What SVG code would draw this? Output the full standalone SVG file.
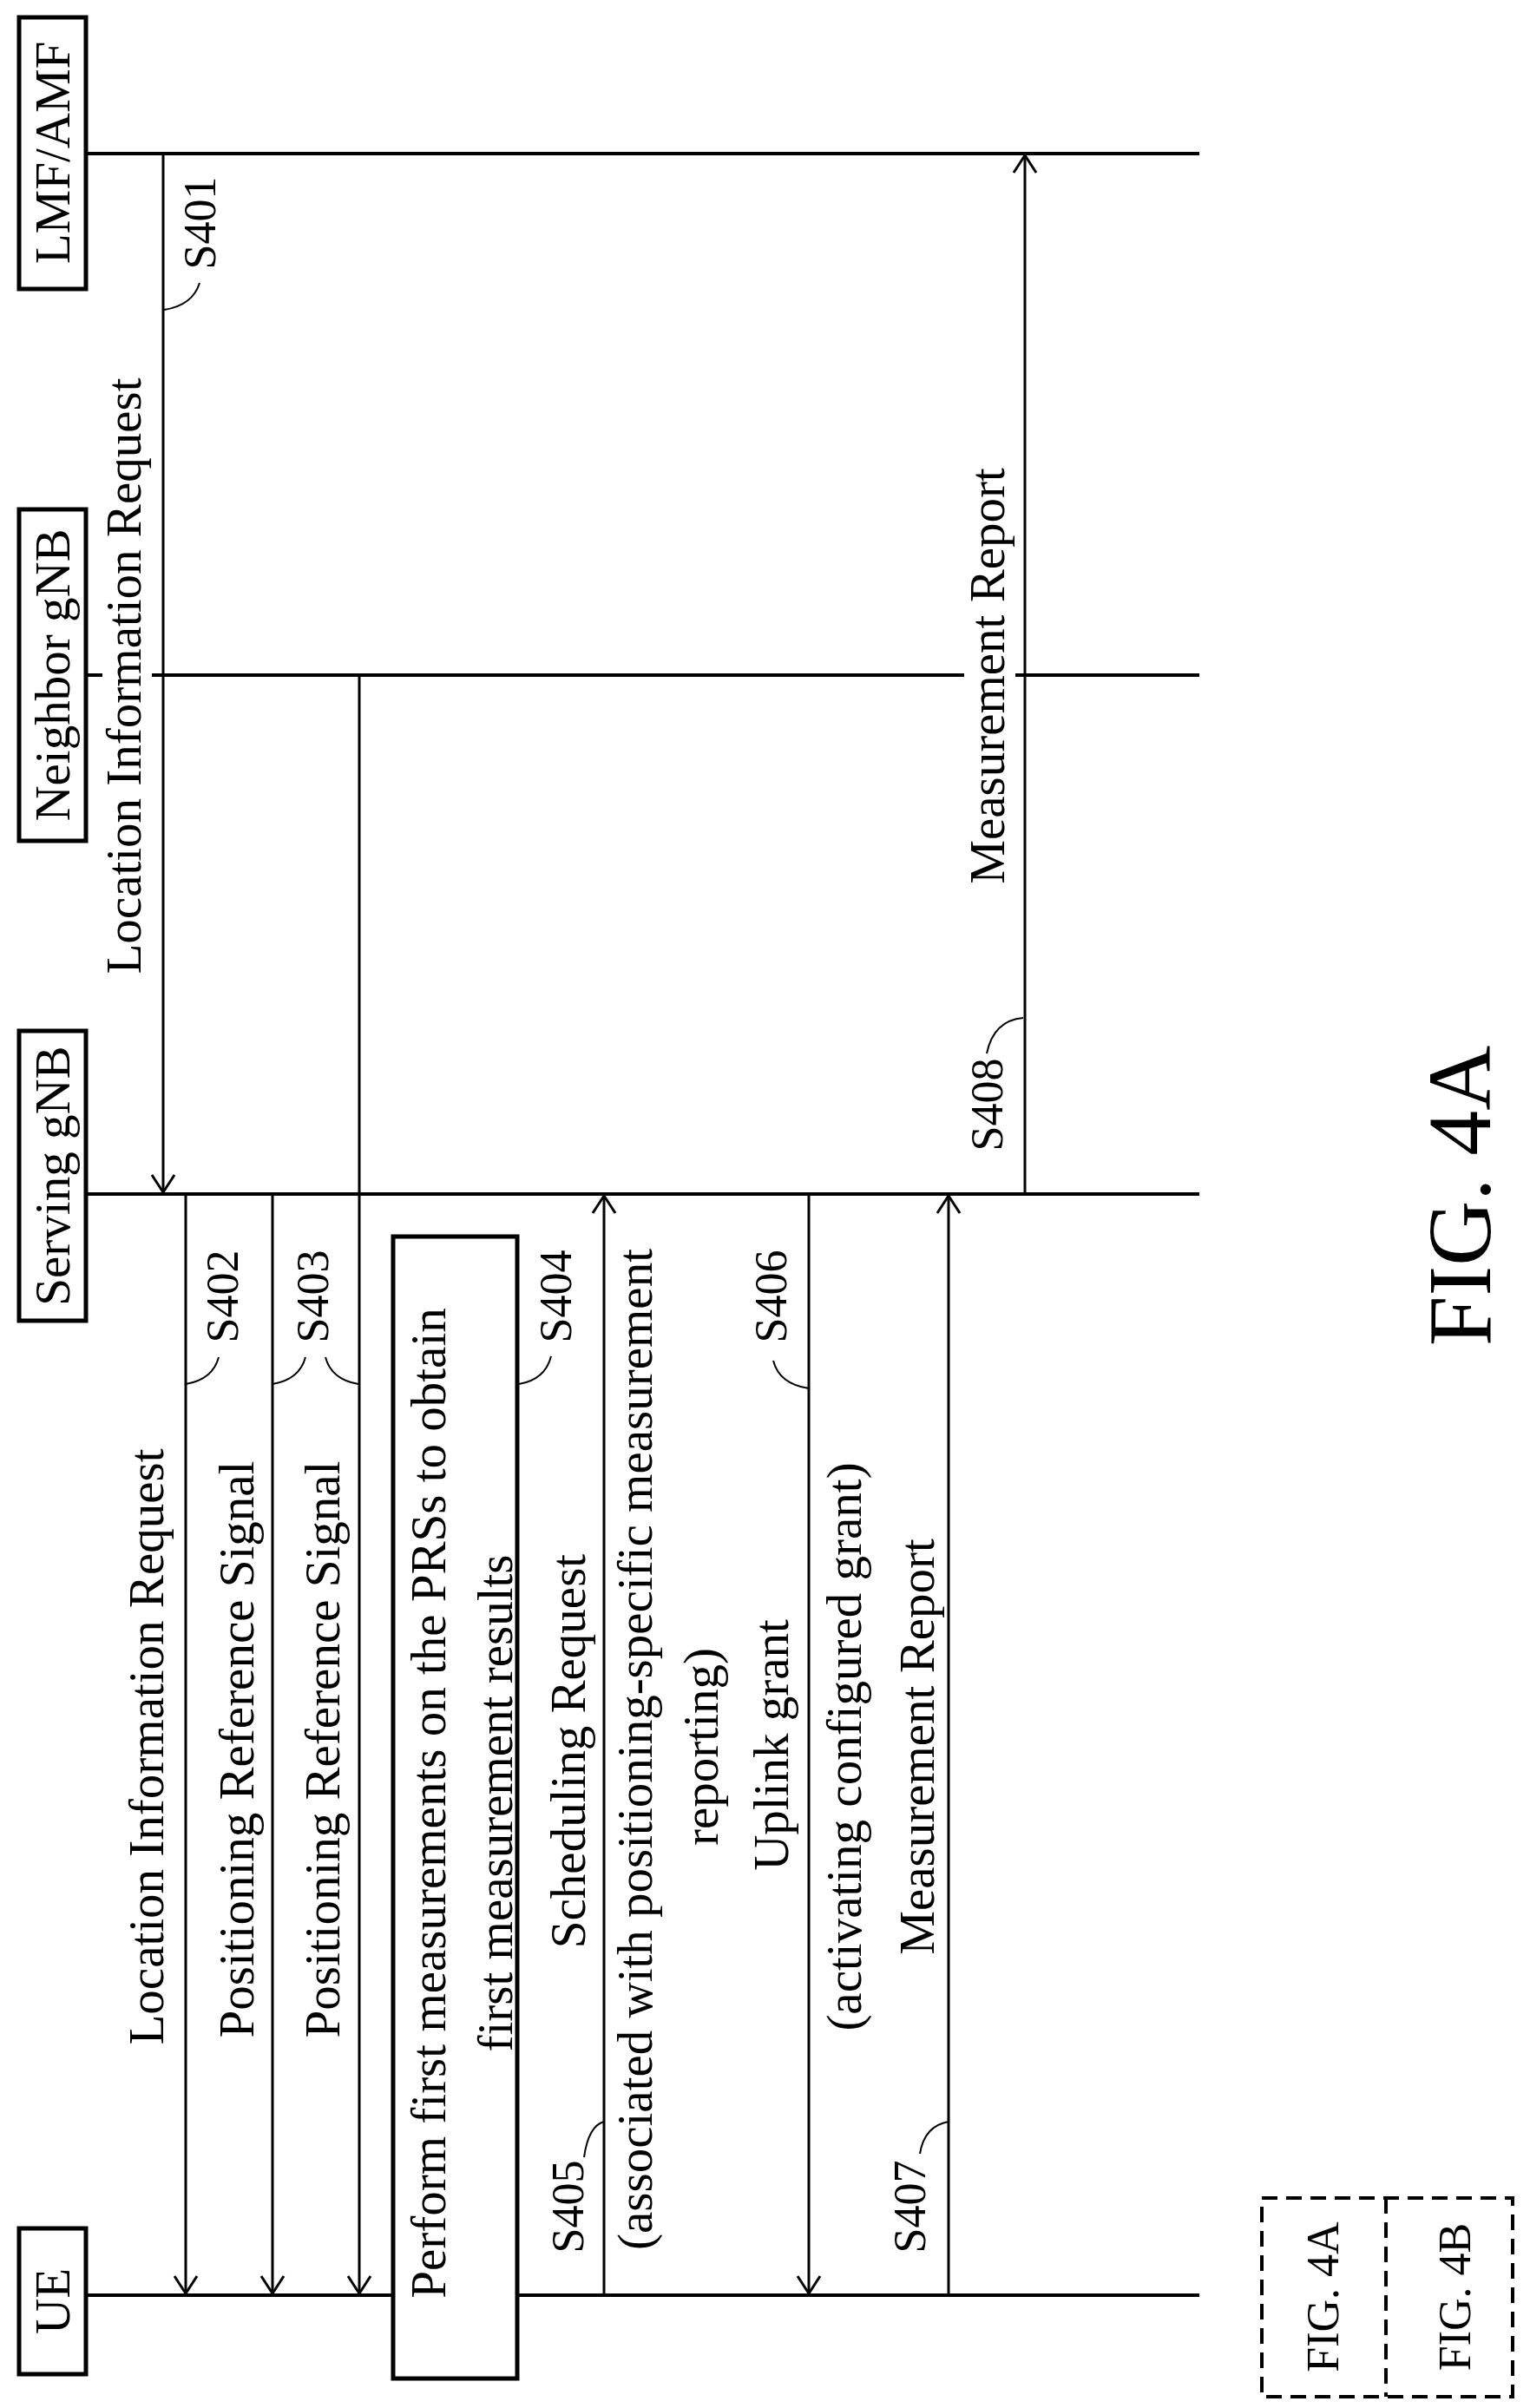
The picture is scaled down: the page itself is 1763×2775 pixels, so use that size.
<svg xmlns="http://www.w3.org/2000/svg" width="1763" height="2775" viewBox="0 0 1763 2775">
<style>
text{font-family:"Liberation Serif","Times New Roman",serif;fill:#000;text-anchor:middle;dominant-baseline:central}
.t{font-size:57px}
.s{font-size:52px}
.ll{stroke:#000;stroke-width:4;fill:none}
.ar{stroke:#000;stroke-width:3;fill:none}
.cv{stroke:#000;stroke-width:2;fill:none}
.box{fill:#fff;stroke:#000;stroke-width:5}
</style>
<defs>
<marker id="ah" viewBox="0 0 24 30" refX="22" refY="15" markerWidth="24" markerHeight="30" markerUnits="userSpaceOnUse" orient="auto">
<path d="M2,2 L22,15 L2,28" fill="none" stroke="#000" stroke-width="3"/>
</marker>
</defs>
<g id="lifelines">
<line class="ll" x1="99" y1="177" x2="1382" y2="177"/>
<line class="ll" x1="99" y1="778" x2="118" y2="778"/>
<line class="ll" x1="175" y1="778" x2="1111" y2="778"/>
<line class="ll" x1="1170" y1="778" x2="1382" y2="778"/>
<line class="ll" x1="99" y1="1376" x2="1382" y2="1376"/>
<line class="ll" x1="99" y1="2645" x2="1382" y2="2645"/>
</g>
<g id="n-lmf"><rect class="box" x="22" y="20" width="77" height="313" stroke-width="4"/><text class="t" transform="translate(60,176) rotate(-90)">LMF/AMF</text></g>
<g id="n-neighbor"><rect class="box" x="22" y="587" width="77" height="382" stroke-width="4"/><text class="t" transform="translate(60,778) rotate(-90)">Neighbor gNB</text></g>
<g id="n-serving"><rect class="box" x="22" y="1188" width="77" height="334" stroke-width="4"/><text class="t" transform="translate(60,1355) rotate(-90)">Serving gNB</text></g>
<g id="n-ue"><rect class="box" x="22" y="2568" width="77" height="168" stroke-width="4"/><text class="t" transform="translate(60,2652) rotate(-90)">UE</text></g>
<g id="connectors">
<line class="ar" x1="188" y1="177" x2="188" y2="1374" marker-end="url(#ah)"/>
<line class="ar" x1="214" y1="1376" x2="214" y2="2643" marker-end="url(#ah)"/>
<line class="ar" x1="314" y1="1376" x2="314" y2="2643" marker-end="url(#ah)"/>
<line class="ar" x1="414" y1="778" x2="414" y2="2643" marker-end="url(#ah)"/>
<line class="ar" x1="696" y1="2645" x2="696" y2="1378" marker-end="url(#ah)"/>
<line class="ar" x1="932" y1="1376" x2="932" y2="2643" marker-end="url(#ah)"/>
<line class="ar" x1="1093" y1="2645" x2="1093" y2="1378" marker-end="url(#ah)"/>
<line class="ar" x1="1181" y1="1376" x2="1181" y2="179" marker-end="url(#ah)"/>
<path class="cv" d="M189,357 Q222,352 230,326"/>
<path class="cv" d="M214,1595 Q245,1590 252,1564"/>
<path class="cv" d="M314,1595 Q345,1590 352,1564"/>
<path class="cv" d="M375,1564 Q382,1590 413,1595"/>
<path class="cv" d="M598,1595 Q628,1590 635,1563"/>
<path class="cv" d="M891,1568 Q898,1595 932,1600"/>
<path class="cv" d="M673,2486 Q678,2450 696,2445"/>
<path class="cv" d="M1060,2482 Q1065,2450 1093,2445"/>
<path class="cv" d="M1137,1214 Q1145,1176 1179,1173"/>
</g>
<g id="box-perform">
<rect class="box" x="453" y="1425" width="143" height="1316"/>
<text class="t" transform="translate(493,2078) rotate(-90)">Perform first measurements on the PRSs to obtain</text>
<text class="t" transform="translate(570,2078) rotate(-90)">first measurement results</text>
</g>
<g id="labels">
<text class="t" transform="translate(142,779) rotate(-90)">Location Information Request</text>
<text class="s" transform="translate(230,257) rotate(-90)">S401</text>
<text class="t" transform="translate(168,2013) rotate(-90)">Location Information Request</text>
<text class="t" transform="translate(272,2016) rotate(-90)">Positioning Reference Signal</text>
<text class="t" transform="translate(371,2016) rotate(-90)">Positioning Reference Signal</text>
<text class="s" transform="translate(256,1494) rotate(-90)">S402</text>
<text class="s" transform="translate(360,1494) rotate(-90)">S403</text>
<text class="s" transform="translate(640,1494) rotate(-90)">S404</text>
<text class="t" transform="translate(654,2018) rotate(-90)">Scheduling Request</text>
<text class="t" transform="translate(731,2016) rotate(-90)">(associated with positioning-specific measurement</text>
<text class="t" transform="translate(807,2013) rotate(-90)">reporting)</text>
<text class="s" transform="translate(654,2543) rotate(-90)">S405</text>
<text class="s" transform="translate(888,1494) rotate(-90)">S406</text>
<text class="t" transform="translate(888,2011) rotate(-90)">Uplink grant</text>
<text class="t" transform="translate(972,2013) rotate(-90)">(activating configured grant)</text>
<text class="t" transform="translate(1056,2013) rotate(-90)">Measurement Report</text>
<text class="s" transform="translate(1048,2543) rotate(-90)">S407</text>
<text class="t" transform="translate(1137,779) rotate(-90)">Measurement Report</text>
<text class="s" transform="translate(1137,1273) rotate(-90)">S408</text>
<text style="font-size:104px" transform="translate(1681,1378) rotate(-90)">FIG. 4A</text>
</g>
<g id="figref">
<rect x="1454" y="2533" width="289" height="229" fill="none" stroke="#000" stroke-width="4" stroke-dasharray="18,10"/>
<line x1="1597" y1="2533" x2="1597" y2="2762" stroke="#000" stroke-width="4" stroke-dasharray="18,10"/>
<text class="s" transform="translate(1524,2647) rotate(-90)">FIG. 4A</text>
<text class="s" transform="translate(1676,2647) rotate(-90)">FIG. 4B</text>
</g>
</svg>
